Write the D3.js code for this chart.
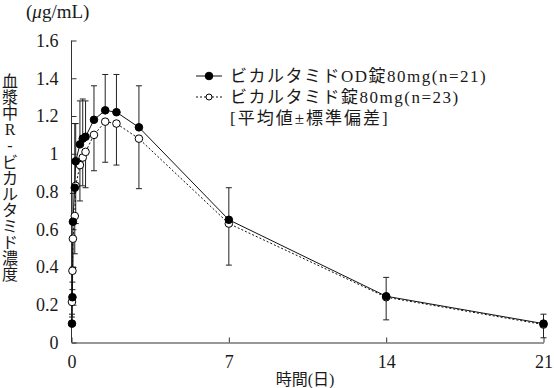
<!DOCTYPE html>
<html>
<head>
<meta charset="utf-8">
<title>ビカルタミド 血漿中濃度推移</title>
<script src="https://d3js.org/d3.v7.min.js"></script>
<style>
  body { margin: 0; background: #fff; }
  text { font-family: "Liberation Serif", "Noto Sans CJK JP", serif; fill: #1a1a1a; }
</style>
</head>
<body>
<div id="chart"></div>
<script>
// sampling times (hours after dosing)
var hours = [0.5, 1, 1.5, 3.5, 4.5, 9, 12, 15, 24, 36, 48, 72, 168, 336, 504];

// OD tablet 80mg (n=21): mean and SD (drawn upward)
var odMean = [0.10, 0.24, 0.64, 0.82, 0.96, 1.05, 1.08, 1.09, 1.18, 1.23, 1.22, 1.14, 0.65, 0.245, 0.10];
var odSd   = [0.05, 0.08, 0.15, 0.34, 0.20, 0.23, 0.21, 0.19, 0.18, 0.19, 0.20, 0.22, 0.17, 0.10, 0.05];

// conventional tablet 80mg (n=23): mean and SD (drawn downward)
var tabMean = [0.215, 0.38, 0.55, 0.67, 0.83, 0.94, 0.98, 1.01, 1.10, 1.17, 1.16, 1.08, 0.63, 0.24, 0.095];
var tabSd   = [0.08, 0.10, 0.15, 0.20, 0.20, 0.19, 0.15, 0.19, 0.19, 0.215, 0.22, 0.265, 0.22, 0.12, 0.07];

var xTicks = [0, 168, 336, 504];
var xTickLabels = ["0", "7", "14", "21"];
var yTicks = [0, 0.2, 0.4, 0.6, 0.8, 1.0, 1.2, 1.4, 1.6];
var yTickLabels = ["0", "0.2", "0.4", "0.6", "0.8", "1", "1.2", "1.4", "1.6"];

var seriesNames = ["ビカルタミドOD錠80mg(n=21)", "ビカルタミド錠80mg(n=23)"];
var noteLabel = "[平均値±標準偏差]";
var yTitle = "血漿中R-ビカルタミド濃度";
var xTitle = "時間(日)";

var width = 554, height = 388;

var svg = d3.select("#chart").append("svg")
  .attr("width", width)
  .attr("height", height);

var x = d3.scaleLinear().domain([0, 504]).range([71.5, 543.5]);
var y = d3.scaleLinear().domain([0, 1.6]).range([342.5, 40.5]);

// axes (ticks point inward)
var xAxis = svg.append("g")
  .attr("transform", "translate(0," + y(0) + ")")
  .call(d3.axisBottom(x)
    .tickValues(xTicks)
    .tickFormat(function(d, i) { return xTickLabels[i]; })
    .tickSizeInner(-5).tickSizeOuter(0).tickPadding(13));

var yAxis = svg.append("g")
  .attr("transform", "translate(" + x(0) + ",0)")
  .call(d3.axisLeft(y)
    .tickValues(yTicks)
    .tickFormat(function(d, i) { return yTickLabels[i]; })
    .tickSizeInner(-5).tickSizeOuter(0).tickPadding(13));

[xAxis, yAxis].forEach(function(g) {
  g.selectAll("path, line").attr("stroke", "#333");
  g.selectAll("text")
    .style("font-family", "'Liberation Serif', serif")
    .style("font-size", "18px")
    .attr("fill", "#1a1a1a");
});
yAxis.select(".domain").attr("d", "M0," + y(1.6) + "V" + y(0));

// data rows
function rows(mean, sd, dir) {
  return hours.map(function(h, i) {
    return { h: h, m: mean[i], end: Math.max(mean[i] + dir * sd[i], 0) };
  });
}
var series = [
  { rows: rows(tabMean, tabSd, -1), filled: false },
  { rows: rows(odMean, odSd, 1), filled: true }
];

// error bars: +SD for OD tablet, -SD for conventional tablet
series.forEach(function(s) {
  var g = svg.append("g").attr("stroke", "#222").attr("stroke-width", 1);
  var bars = g.selectAll("g").data(s.rows).enter().append("g");
  bars.append("line")
    .attr("x1", function(d) { return x(d.h); })
    .attr("x2", function(d) { return x(d.h); })
    .attr("y1", function(d) { return y(d.m); })
    .attr("y2", function(d) { return y(d.end); });
  bars.append("line")
    .attr("x1", function(d) { return x(d.h) - 3; })
    .attr("x2", function(d) { return x(d.h) + 3; })
    .attr("y1", function(d) { return y(d.end); })
    .attr("y2", function(d) { return y(d.end); });
});

var line = d3.line()
  .x(function(d) { return x(d.h); })
  .y(function(d) { return y(d.m); });

series.forEach(function(s) {
  svg.append("path")
    .datum(s.rows)
    .attr("d", line)
    .attr("fill", "none")
    .attr("stroke", "#111")
    .attr("stroke-width", 1)
    .attr("stroke-dasharray", s.filled ? null : "2,2");
});

series.forEach(function(s) {
  svg.append("g").selectAll("circle")
    .data(s.rows)
    .enter().append("circle")
    .attr("cx", function(d) { return x(d.h); })
    .attr("cy", function(d) { return y(d.m); })
    .attr("r", 3.8)
    .attr("fill", s.filled ? "#000" : "#fff")
    .attr("stroke", "#000")
    .attr("stroke-width", 1);
});

// legend
var legend = svg.append("g").attr("transform", "translate(196,76)");
var legendRows = legend.selectAll("g")
  .data(seriesNames)
  .enter().append("g")
  .attr("transform", function(d, i) { return "translate(0," + i * 21 + ")"; });
legendRows.append("line")
  .attr("x1", 0).attr("x2", 26)
  .attr("stroke", "#111")
  .attr("stroke-dasharray", function(d, i) { return i ? "2,2" : null; });
legendRows.append("circle")
  .attr("cx", 13).attr("r", function(d, i) { return i ? 3 : 3.8; })
  .attr("fill", function(d, i) { return i ? "#fff" : "#000"; })
  .attr("stroke", "#000");
legendRows.append("text")
  .attr("x", 34).attr("y", 6)
  .style("font-size", "17px")
  .style("letter-spacing", "1.5px")
  .text(function(d) { return d; });
legend.append("text")
  .attr("x", 34).attr("y", 48)
  .style("font-size", "17px")
  .style("letter-spacing", "2px")
  .text(noteLabel);

// unit label
var unit = svg.append("text")
  .attr("x", 26).attr("y", 18)
  .style("font-size", "19px");
unit.append("tspan").text("(");
unit.append("tspan").style("font-style", "italic").text("μ");
unit.append("tspan").text("g/mL)");

// vertical y title, one character per line
svg.append("g").selectAll("text")
  .data(Array.from(yTitle))
  .enter().append("text")
  .attr("x", 10)
  .attr("y", function(d, i) { return 87 + i * 16.1; })
  .attr("text-anchor", "middle")
  .style("font-size", "16px")
  .text(function(d) { return d; });

// x title
svg.append("text")
  .attr("x", 305).attr("y", 385)
  .attr("text-anchor", "middle")
  .style("font-size", "16px")
  .text(xTitle);
</script>
</body>
</html>
